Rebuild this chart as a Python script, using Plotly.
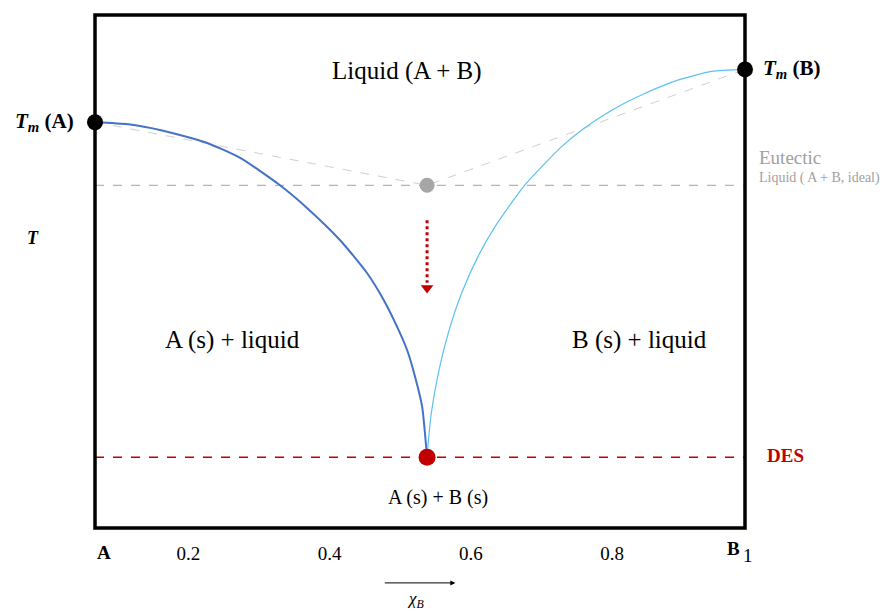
import plotly.graph_objects as go

# Composition axis (mole fraction of B) and temperature (arbitrary units)
X_A = 0.068          # pure A side of the diagram
X_B = 0.988          # pure B side of the diagram
X_EUT = 0.538        # eutectic composition
T_MELT_A = 79.1
T_MELT_B = 89.4
T_EUT_IDEAL = 66.8
T_DES = 13.8

# Liquidus of A (A crystallises out)
liqA_x = [0.068, 0.115, 0.163, 0.224, 0.274, 0.328, 0.368, 0.415, 0.453,
          0.476, 0.495, 0.510, 0.521, 0.531, 0.535, 0.538]
liqA_t = [79.1, 78.7, 77.5, 75.2, 72.1, 67.0, 62.4, 56.1, 49.7,
          44.6, 39.4, 34.6, 29.5, 23.7, 18.5, 13.8]

# Liquidus of B (B crystallises out)
liqB_x = [0.538, 0.540, 0.544, 0.554, 0.568, 0.587, 0.610, 0.634, 0.676,
          0.728, 0.758, 0.800, 0.846, 0.893, 0.941, 0.988]
liqB_t = [13.8, 17.2, 22.4, 30.2, 38.0, 45.8, 52.9, 58.7, 66.8,
          74.3, 77.7, 81.5, 84.7, 87.3, 89.0, 89.4]

tick_vals = [0.2, 0.4, 0.6, 0.8]
tick_text = ["0.2", "0.4", "0.6", "0.8"]

SERIF = "'Liberation Serif', 'DejaVu Serif', serif"
RED = "#C00000"

fig = go.Figure()

# Ideal-mixture eutectic construction (gray)
fig.add_trace(go.Scatter(x=[X_A, X_B], y=[T_EUT_IDEAL, T_EUT_IDEAL], mode="lines",
                         line=dict(color="#B4B4B4", width=1.3, dash="dash"),
                         hoverinfo="skip", showlegend=False))
fig.add_trace(go.Scatter(x=[X_A, X_EUT, X_B], y=[T_MELT_A, T_EUT_IDEAL, T_MELT_B], mode="lines",
                         line=dict(color="#CFCFCF", width=1, dash="dash"),
                         hoverinfo="skip", showlegend=False))

# Deep eutectic temperature line
fig.add_trace(go.Scatter(x=[X_A, X_B], y=[T_DES, T_DES], mode="lines",
                         line=dict(color=RED, width=1.6, dash="dash"),
                         hoverinfo="skip", showlegend=False))

# Liquidus curves
fig.add_trace(go.Scatter(x=liqA_x, y=liqA_t, mode="lines",
                         line=dict(color="#4472C4", width=2, shape="spline", smoothing=0.6),
                         hoverinfo="skip", showlegend=False))
fig.add_trace(go.Scatter(x=liqB_x, y=liqB_t, mode="lines",
                         line=dict(color="#5BC2EE", width=1.2, shape="spline", smoothing=0.6),
                         hoverinfo="skip", showlegend=False))

# Depression arrow from the ideal eutectic towards the DES
arrow_top, arrow_end = 60.0, 47.8
fig.add_trace(go.Scatter(x=[X_EUT, X_EUT], y=[arrow_top, arrow_end], mode="lines",
                         line=dict(color=RED, width=3, dash="dot"),
                         hoverinfo="skip", showlegend=False))
fig.add_trace(go.Scatter(x=[X_EUT], y=[arrow_end - 1.0], mode="markers",
                         marker=dict(symbol="triangle-down", size=11, color=RED),
                         hoverinfo="skip", showlegend=False))

# Characteristic points
fig.add_trace(go.Scatter(x=[X_EUT], y=[T_EUT_IDEAL], mode="markers",
                         marker=dict(size=15, color="#A6A6A6"),
                         hoverinfo="skip", showlegend=False))
fig.add_trace(go.Scatter(x=[X_EUT], y=[T_DES], mode="markers",
                         marker=dict(size=17, color=RED),
                         hoverinfo="skip", showlegend=False))
fig.add_trace(go.Scatter(x=[X_A, X_B], y=[T_MELT_A, T_MELT_B], mode="markers",
                         marker=dict(size=16, color="black"), cliponaxis=False,
                         hoverinfo="skip", showlegend=False))

ann = []

def label(x, y, text, size, color="black", xref="x", yref="y", xanchor="center"):
    ann.append(dict(x=x, y=y, xref=xref, yref=yref, text=text, showarrow=False,
                    xanchor=xanchor, yanchor="middle",
                    font=dict(family=SERIF, size=size, color=color)))

# Region labels
label(0.510, 89.0, "Liquid (A + B)", 25)
label(0.262, 36.6, "A (s) + liquid", 25)
label(0.838, 36.6, "B (s) + liquid", 25)
label(0.554, 5.9, "A (s) + B (s)", 20)

# Melting points
label(-0.030, T_MELT_A, "<b><i>T<sub>m</sub></i> (A)</b>", 21, xref="paper", xanchor="right")
label(1.024, T_MELT_B, "<b><i>T<sub>m</sub></i> (B)</b>", 21, xref="paper", xanchor="left")

# Eutectic and DES labels
label(1.019, 72.2, "Eutectic", 19, color="#A0A0A0", xref="paper", xanchor="left")
label(1.019, 68.3, "Liquid ( A + B, ideal)", 14, color="#A0A0A0", xref="paper", xanchor="left")
label(1.030, 14.2, "<b>DES</b>", 19, color=RED, xref="paper", xanchor="left")

# Temperature axis symbol
label(-0.095, 56.5, "<b><i>T</i></b>", 18, xref="paper")

# Pure-component labels on the composition axis
label(0.0135, -0.048, "<b>A</b>", 19, xref="paper", yref="paper")
label(0.983, -0.040, "<b>B</b>", 19, xref="paper", yref="paper")
label(1.0046, -0.053, "1", 19, xref="paper", yref="paper")

# Direction arrow and composition symbol
ann.append(dict(x=0.578, y=-0.107, xref="x", yref="paper", ax=-72, ay=0,
                axref="pixel", ayref="pixel", text="", showarrow=True,
                arrowhead=2, arrowsize=1, arrowwidth=1, arrowcolor="black"))
label(0.521, -0.140, "<i>χ<sub>B</sub></i>", 17, yref="paper")

fig.update_layout(
    width=890, height=613,
    margin=dict(l=95, r=145, t=15, b=85),
    paper_bgcolor="white", plot_bgcolor="white",
    annotations=ann,
    shapes=[dict(type="rect", xref="paper", yref="paper", x0=0, x1=1, y0=0, y1=1,
                 line=dict(color="black", width=3.5), layer="above")],
    xaxis=dict(range=[X_A, X_B], showgrid=False, zeroline=False, showline=False,
               tickvals=tick_vals, ticktext=tick_text, ticks="",
               ticklabelstandoff=12,
               tickfont=dict(family=SERIF, size=19, color="black"), fixedrange=True),
    yaxis=dict(range=[0, 100], showgrid=False, zeroline=False, showline=False,
               showticklabels=False, ticks="", fixedrange=True),
    font=dict(family=SERIF),
)

fig.write_html("out.html")
